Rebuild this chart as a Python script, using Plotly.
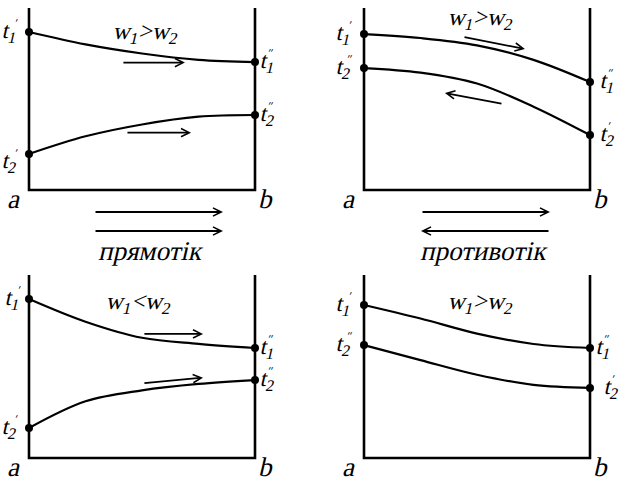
import plotly.graph_objects as go

W, H = 623, 482
FONT = "Liberation Serif"

# ---- data (position along the exchanger a->b, relative temperatures) ----
x_pos = [0, 0.25, 0.5, 0.75, 1]

tl_hot = [0.868, 0.800, 0.750, 0.715, 0.703]
tl_cold = [0.198, 0.295, 0.360, 0.403, 0.412]

tr_hot = [0.857, 0.835, 0.795, 0.715, 0.593]
tr_cold = [0.670, 0.645, 0.585, 0.458, 0.302]

bl_hot = [0.869, 0.745, 0.657, 0.624, 0.601]
bl_cold = [0.164, 0.310, 0.370, 0.405, 0.426]

br_hot = [0.836, 0.762, 0.680, 0.623, 0.601]
br_cold = [0.617, 0.535, 0.455, 0.400, 0.383]

ratio_labels = ["w<sub>1</sub>&gt;w<sub>2</sub>", "w<sub>1</sub>&gt;w<sub>2</sub>",
                "w<sub>1</sub>&lt;w<sub>2</sub>", "w<sub>1</sub>&gt;w<sub>2</sub>"]
flow_labels = ["прямотік", "противотік"]
end_labels = ["a", "b"]

# ---- layout of the four panels (pixels) ----
PAD = 0.03
panels = [
    dict(x0=29, x1=255, top=8, bottom=190, hot=tl_hot, cold=tl_cold, ratio=ratio_labels[0],
         rpos=(0.518, 0.863),
         labels=[("L", "hot", "1", "′", -10, 0), ("L", "cold", "2", "′", -10, -8),
                 ("R", "hot", "1", "″", 4, 0), ("R", "cold", "2", "″", 4, 0)],
         arrows=[((0.411, 0.70), (0.69, 0.70)), ((0.429, 0.315), (0.717, 0.315))]),
    dict(x0=364, x1=590, top=8, bottom=190, hot=tr_hot, cold=tr_cold, ratio=ratio_labels[1],
         rpos=(0.522, 0.94),
         labels=[("L", "hot", "1", "′", -11, 0), ("L", "cold", "2", "″", -11, 0),
                 ("R", "hot", "1", "″", 9, 0), ("R", "cold", "2", "′", 9, 0)],
         arrows=[((0.438, 0.841), (0.712, 0.775)), ((0.615, 0.473), (0.358, 0.533))]),
    dict(x0=29, x1=255, top=275, bottom=458, hot=bl_hot, cold=bl_cold, ratio=ratio_labels[2],
         rpos=(0.487, 0.847),
         labels=[("L", "hot", "1", "′", -7, 0), ("L", "cold", "2", "′", -10, 0),
                 ("R", "hot", "1", "″", 4, 0), ("R", "cold", "2", "″", 4, 0)],
         arrows=[((0.504, 0.678), (0.770, 0.678)), ((0.504, 0.408), (0.770, 0.439))]),
    dict(x0=364, x1=590, top=275, bottom=458, hot=br_hot, cold=br_cold, ratio=ratio_labels[3],
         rpos=(0.522, 0.847),
         labels=[("L", "hot", "1", "′", -11, 0), ("L", "cold", "2", "″", -11, 0),
                 ("R", "hot", "1", "″", 5, 0), ("R", "cold", "2", "′", 13, 0)],
         arrows=[]),
]

fig = go.Figure()
annotations = []
layout_axes = {}

for i, p in enumerate(panels):
    n = "" if i == 0 else str(i + 1)
    xa, ya = "x" + n, "y" + n
    wpx = p["x1"] - p["x0"]
    hpx = p["bottom"] - p["top"]
    dom_x = [(p["x0"] - PAD * wpx) / W, (p["x1"] + PAD * wpx) / W]
    dom_y = [1 - (p["bottom"] + PAD * hpx) / H, 1 - (p["top"] - PAD * hpx) / H]
    layout_axes["xaxis" + n] = dict(domain=dom_x, range=[-PAD, 1 + PAD], visible=False,
                                    fixedrange=True, anchor=ya)
    layout_axes["yaxis" + n] = dict(domain=dom_y, range=[-PAD, 1 + PAD], visible=False,
                                    fixedrange=True, anchor=xa)
    # frame: left wall, bottom, right wall
    fig.add_trace(go.Scatter(x=[0, 0, 1, 1], y=[1, 0, 0, 1], mode="lines",
                             line=dict(color="black", width=2.6), xaxis=xa, yaxis=ya,
                             hoverinfo="skip", showlegend=False))
    for key in ("hot", "cold"):
        vals = p[key]
        fig.add_trace(go.Scatter(x=x_pos, y=vals, mode="lines",
                                 line=dict(color="black", width=2.2, shape="spline", smoothing=1.0),
                                 xaxis=xa, yaxis=ya, hoverinfo="skip", showlegend=False))
        fig.add_trace(go.Scatter(x=[x_pos[0], x_pos[-1]], y=[vals[0], vals[-1]], mode="markers",
                                 marker=dict(color="black", size=8), cliponaxis=False,
                                 xaxis=xa, yaxis=ya, hoverinfo="skip", showlegend=False))
    # a / b labels
    annotations.append(dict(x=0, y=0, xref=xa, yref=ya, text=end_labels[0], showarrow=False,
                            xanchor="right", yanchor="middle", xshift=-6, yshift=-9,
                            font=dict(family=FONT, size=27, color="black")))
    annotations.append(dict(x=1, y=0, xref=xa, yref=ya, text=end_labels[1], showarrow=False,
                            xanchor="center", yanchor="middle", xshift=12, yshift=-9,
                            font=dict(family=FONT, size=27, color="black")))
    # ratio label
    annotations.append(dict(x=p["rpos"][0], y=p["rpos"][1], xref=xa, yref=ya,
                            text=p["ratio"], showarrow=False, xanchor="center",
                            font=dict(family=FONT, size=24, color="black")))
    # temperature labels
    for side, key, sub, prime, dx, dy in p["labels"]:
        xv = 0 if side == "L" else 1
        yv = p[key][0] if side == "L" else p[key][-1]
        anchor = "right" if side == "L" else "left"
        annotations.append(dict(x=xv, y=yv, xref=xa, yref=ya,
                                text="t<sub>" + sub + "</sub>", showarrow=False,
                                xanchor=anchor, yanchor="middle", xshift=dx, yshift=dy,
                                font=dict(family=FONT, size=23, color="black")))
        pdx = (dx + 1) if side == "L" else (dx + 7)
        annotations.append(dict(x=xv, y=yv, xref=xa, yref=ya, text=prime, showarrow=False,
                                xanchor=anchor, yanchor="middle", xshift=pdx, yshift=dy + 9,
                                font=dict(family=FONT, size=12, color="black")))
    # flow arrows
    for (tail, head) in p["arrows"]:
        annotations.append(dict(x=head[0], y=head[1], ax=tail[0], ay=tail[1],
                                xref=xa, yref=ya, axref=xa, ayref=ya, text="",
                                showarrow=True, arrowhead=5, arrowsize=0.9, arrowwidth=1.8,
                                arrowcolor="black", standoff=0))

# ---- scheme arrows between panels (paper coordinates) ----
def arrow(x_head, y, length, direction):
    return dict(x=x_head / W, y=1 - y / H, xref="paper", yref="paper",
                ax=-direction * length, ay=0, text="", showarrow=True,
                arrowhead=5, arrowsize=0.9, arrowwidth=1.8, arrowcolor="black", standoff=0)

annotations += [
    arrow(223, 212, 129, 1), arrow(223, 231, 129, 1),
    arrow(550, 212, 129, 1), arrow(421, 231, 129, -1),
]
annotations += [
    dict(x=152 / W, y=1 - 251 / H, xref="paper", yref="paper", text=flow_labels[0],
         showarrow=False, xanchor="center", yanchor="middle",
         font=dict(family=FONT, size=27, color="black")),
    dict(x=485 / W, y=1 - 251 / H, xref="paper", yref="paper", text=flow_labels[1],
         showarrow=False, xanchor="center", yanchor="middle",
         font=dict(family=FONT, size=27, color="black")),
]

fig.update_layout(width=W, height=H, margin=dict(l=0, r=0, t=0, b=0),
                  paper_bgcolor="white", plot_bgcolor="white", showlegend=False,
                  annotations=annotations, **layout_axes)

# the serif italic face is missing, so slant the serif text (still real text)
slant = """
document.body.style.margin='0';
document.querySelectorAll('text.annotation-text').forEach(function(t){
  t.style.transformBox='fill-box';
  t.style.transformOrigin='center';
  t.style.transform='skewX(-13deg)';
});
"""
fig.write_html("out.html", config={"displayModeBar": False}, post_script=slant)
